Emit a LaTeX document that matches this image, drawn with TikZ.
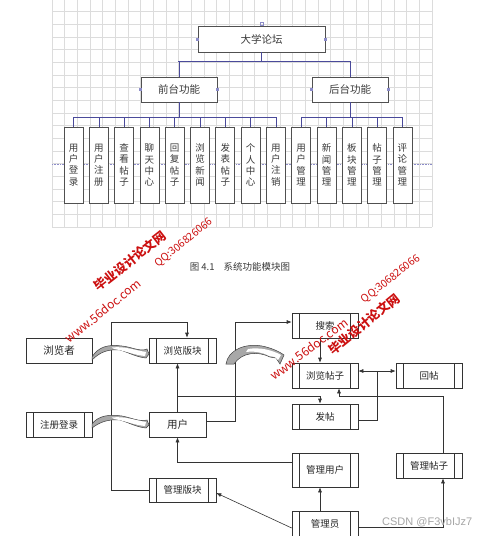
\documentclass[tikz,border=0pt]{standalone}
\usepackage{fontspec}
\setmainfont{Noto Sans CJK SC}
\newfontfamily\lsans{Liberation Sans}
\usetikzlibrary{arrows.meta}
\definecolor{gridc}{HTML}{DCDCDC}
\definecolor{conn}{HTML}{4A4A9A}
\definecolor{cpt}{HTML}{8C8CC8}
\definecolor{boxc}{HTML}{505050}
\definecolor{txt}{HTML}{3A3A3A}
\definecolor{wm}{HTML}{CC1010}
\definecolor{swg}{HTML}{A8A8A8}
\tikzset{
 topbox/.style={draw=boxc, line width=0.7pt, fill=white, inner sep=0pt, text=txt, font=\fontsize{10.5}{12}\selectfont},
 kidbox/.style={draw=boxc, line width=0.7pt, fill=white, minimum width=19pt, minimum height=76pt, inner sep=0pt, text=txt, align=center, font=\fontsize{9.5}{11.3}\selectfont},
 tconn/.style={draw=conn, line width=0.6pt},
 plainbox/.style={draw=black!80, line width=0.6pt, fill=white, inner sep=0pt, minimum width=66pt, minimum height=25pt, text=black!85, font=\fontsize{9.5}{11}\selectfont},
 procbox/.style={plainbox, path picture={\draw[black!80,line width=0.6pt] ([xshift=7.5pt]path picture bounding box.north west) -- ([xshift=7.5pt]path picture bounding box.south west) ([xshift=-7.5pt]path picture bounding box.north east) -- ([xshift=-7.5pt]path picture bounding box.south east);}},
 link/.style={draw=black!80, line width=0.6pt},
 arr/.style={link, -{Latex[length=5pt,width=4pt]}},
 wmark/.style={text=wm, inner sep=0pt},
 swoosh/.style={draw=black!75, line width=0.5pt, fill=swg},
}
\begin{document}
\begin{tikzpicture}[x=1pt,y=-1pt]
\useasboundingbox (0,0) rectangle (500,536);
\fill[white] (0,0) rectangle (500,536);
% grid
\foreach \i in {0,...,30} \draw[gridc, line width=0.5pt] ({52+\i*12.667},0) -- ({52+\i*12.667},227);
\foreach \j in {0,...,17} \draw[gridc, line width=0.5pt] (52,{227-\j*12.667}) -- (432,{227-\j*12.667});
\draw[cpt, densely dotted, line width=0.6pt] (52,164) -- (432,164);
% top diagram
\node[topbox, minimum width=127pt, minimum height=26pt] (top) at (261.5,39) {大学论坛};
\node[topbox, minimum width=76pt, minimum height=25pt] (qt) at (179,89.5) {前台功能};
\node[topbox, minimum width=76pt, minimum height=25pt] (htf) at (350,89.5) {后台功能};
\foreach \t [count=\i from 0] in {用\\户\\登\\录, 用\\户\\注\\册, 查\\看\\帖\\子, 聊\\天\\中\\心, 回\\复\\帖\\子, 浏\\览\\新\\闻, 发\\表\\帖\\子, 个\\人\\中\\心, 用\\户\\注\\销, 用\\户\\管\\理, 新\\闻\\管\\理, 板\\块\\管\\理, 帖\\子\\管\\理, 评\\论\\管\\理}
  \node[kidbox] (k\i) at ({73.5+25.3*\i},165) {\t};
\foreach \n in {top,qt,htf} {
  \fill[cpt] ([xshift=-1.5pt,yshift=-1.5pt]\n.west) rectangle ([xshift=1.5pt,yshift=1.5pt]\n.west);
  \fill[cpt] ([xshift=-1.5pt,yshift=-1.5pt]\n.east) rectangle ([xshift=1.5pt,yshift=1.5pt]\n.east);
}
\draw[cpt, line width=0.5pt] ([xshift=-1.5pt]top.north) rectangle ([xshift=1.5pt,yshift=3pt]top.north);
\draw[tconn] (top.south) -- (261.5,61);
\draw[tconn] (178,61) -- (350,61);
\draw[tconn] (qt.north) -- (179,61);
\draw[tconn] (htf.north) -- (350,61);
\draw[tconn] (qt.south) -- (179,117);
\draw[tconn] (htf.south) -- (350,117);
\draw[tconn] (73.5,117) -- (275.9,117);
\draw[tconn] (301.2,117) -- (402.4,117);
\foreach \i in {0,...,13} \draw[tconn] (k\i.north) -- ++(0,-10);
\node[text=txt, font=\fontsize{9.5}{11}\selectfont] (cap) at (240,266.5) {图 4.1\hspace{9pt}系统功能模块图};
% lower diagram
\node[plainbox, font=\fontsize{10.5}{12}\selectfont] (llz) at (59,350.5) {浏览者};
\node[procbox, minimum width=67pt] (llbk) at (182.5,350.5) {浏览版块};
\node[procbox] (zcdl) at (59,424.5) {注册登录};
\node[plainbox, minimum width=57pt, font=\fontsize{10.5}{12}\selectfont] (yh) at (177.5,424.5) {用户};
\node[procbox, minimum width=67pt, minimum height=24pt] (glbk) at (182.5,490) {管理版块};
\node[procbox] (ss) at (325,325.5) {搜索};
\node[procbox] (lltz) at (325,375.5) {浏览帖子};
\node[procbox] (hf) at (429,375.5) {回帖};
\node[procbox] (ft) at (325,416.5) {发帖};
\node[procbox, minimum height=34pt] (glyh) at (325,470) {管理用户};
\node[procbox] (gltz) at (429,465.5) {管理帖子};
\node[procbox, minimum height=25pt] (gly) at (325,523.5) {管理员};
% connectors
\draw[arr] (glbk.west) -- (111,490) -- (111,322) -| ([xshift=4.5pt]llbk.north);
\draw[arr] (yh.north) -- (yh.north |- llbk.south);
\draw[arr] (177.5,396) -| ([xshift=-5pt]ft.north);
\draw[arr] ([yshift=3.5pt]yh.east) -- (235,421) -- (235,322) -- ([yshift=3.5pt]ss.west);
\draw[arr] ([xshift=-5pt]ss.south) -- ([xshift=-5pt]lltz.north);
\draw[link, {Latex[length=5pt,width=4pt]}-{Latex[length=5pt,width=4pt]}] ([yshift=4.5pt]lltz.east) -- ([yshift=4.5pt]hf.west);
\draw[link] ([yshift=-3.5pt]ft.east) -- (377,420) -- (377,371);
\draw[arr] ([xshift=-5pt]gly.north) -- ([xshift=-5pt]glyh.south);
\draw[arr] ([yshift=-3.5pt]gly.east) -| ([xshift=14pt]gltz.south);
\draw[arr] ([xshift=14pt]gltz.north) -- (443,396) -| ([xshift=14pt]lltz.south);
\draw[arr] ([yshift=8pt]glyh.west) -| (yh.south);
\draw[arr] ([yshift=-4.5pt]gly.west) -- ([yshift=-3pt]glbk.east);
% swooshes
\draw[swoosh] (92,357) .. controls (98,347) and (108,344) .. (122,346) .. controls (132,347) and (140,352) .. (147,349) -- (149,354) -- (146,358) .. controls (136,357) and (130,353) .. (120,350) .. controls (108,349) and (100,352) .. (92,360) -- cycle;
\fill[white] (112,347.5) .. controls (124,346) and (134,350) .. (146,352) -- (145,356) .. controls (134,355) and (126,351) .. (114,349) -- cycle;
\draw[swoosh] (92,424) .. controls (98,416) and (108,414) .. (122,416) .. controls (132,418) and (140,422) .. (147,420) -- (149,425) -- (146,428) .. controls (136,427) and (130,423) .. (120,420) .. controls (108,419) and (100,422) .. (92,428) -- cycle;
\fill[white] (112,417.5) .. controls (124,416) and (134,420) .. (146,422) -- (145,426) .. controls (134,425) and (126,421) .. (114,419) -- cycle;
\draw[swoosh] (226,364) .. controls (228,350) and (245,343) .. (262,346) .. controls (272,348) and (280,352) .. (284,355) -- (280,364) -- (276,358) -- (270,357) .. controls (258,351) and (242,352) .. (234,364) -- cycle;
\fill[white] (248,349) .. controls (260,347) and (272,350) .. (281,355) -- (278,360) -- (275,357) -- (269,356) .. controls (262,352) and (254,351) .. (246,352) -- cycle;
% watermarks
\node[wmark, rotate=38, font=\bfseries\fontsize{12.5}{13}\selectfont] (w1) at (130,261) {毕业设计论文网};
\node[wmark, rotate=39, font=\fontsize{12}{12}\selectfont] (w2) at (103,311) {www.56doc.com};
\node[wmark, rotate=39, font=\fontsize{10.5}{11}\selectfont] (w3) at (184,243) {QQ:306826066};
\node[wmark, rotate=38, font=\fontsize{10.5}{11}\selectfont] (w4) at (391,279) {QQ:306826066};
\node[wmark, rotate=39, font=\bfseries\fontsize{12.5}{13}\selectfont] (w5) at (364,324) {毕业设计论文网};
\node[wmark, rotate=37, font=\fontsize{12}{12}\selectfont] (w6) at (309,349) {www.56doc.com};
\node[text=black!35, font=\lsans\fontsize{11}{12}\selectfont, anchor=west, inner sep=0pt] (csdn) at (382,522) {CSDN @F3vbIJz7};
\end{tikzpicture}
\end{document}
